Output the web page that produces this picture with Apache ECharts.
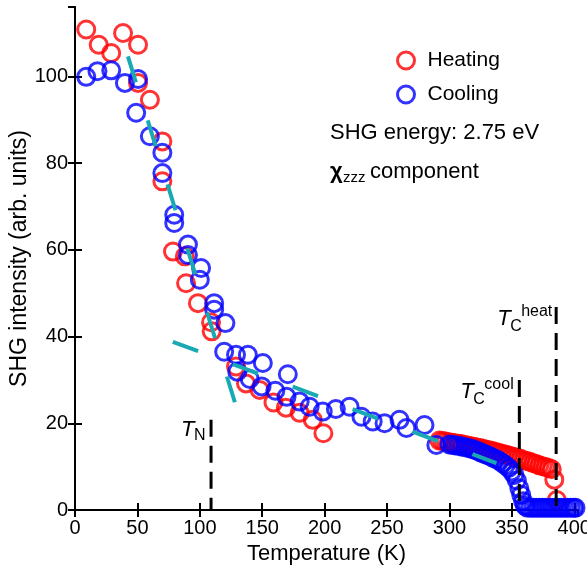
<!DOCTYPE html>
<html>
<head>
<meta charset="utf-8">
<script src="https://cdn.jsdelivr.net/npm/echarts@6/dist/echarts.min.js"></script>
<style>
  html, body { margin: 0; padding: 0; background: #fff; }
  #chart { width: 587px; height: 576px; }
</style>
</head>
<body>
<div id="chart"></div>
<script>
// heating run, [T (K), SHG intensity]
const heatingLow = [[9,110.8],[19,107.3],[29,105.4],[38.5,110],[50.5,107.3],[50.5,98.5],[60,94.6],[70,85],[70,75.8],
  [78.5,59.6],[88,58.5],[89,52.3],[98.5,47.7],[109,43.3],[109.5,41.2],[129,33.1],[137,29.2],[148,27.7],[159,24.8],
  [169,23.6],[180,22.4],[190.5,20.8],[199,17.7]];
const heatingHigh = [[292,16.0],[294.5,15.9],[297,15.8],[299.5,15.6],[302,15.5],[304.5,15.4],[307,15.3],[309.5,15.2],
  [312,15.0],[314.5,14.9],[317,14.7],[319.5,14.6],[322,14.4],[324.5,14.3],[327,14.1],[329.5,13.9],[332,13.8],
  [334.5,13.6],[337,13.4],[339.5,13.2],[342,13.0],[344.5,12.8],[347,12.6],[349.5,12.4],[352,12.2],[354.5,12.0],
  [357,11.8],[359.5,11.5],[362,11.3],[364.5,11.1],[367,10.8],[369.5,10.6],[372,10.3],[374.5,10.1],[377,9.9],
  [379.5,9.7],[382,9.4],[384,7.0],[386,2.3]];
// cooling run
const coolingLow = [[9,99.9],[18,101.2],[29,101.4],[40,98.5],[50.5,99.4],[49,91.6],[60,86.2],[70,82.4],[70,77.7],
  [79.5,68.1],[79.5,66.2],[90.5,61.2],[90.5,58.8],[101,55.8],[100,53.1],[111.5,47.7],[111.5,46.2],[120.5,43.1],
  [119.5,36.5],[129,35.8],[130,31.9],[138.5,35.8],[140,30.2],[150.5,33.9],[149.5,28.5],[160.5,27.5],[170.5,31.3],
  [169.5,26.1],[180,25],[188,23.8],[198.5,22.7],[209,23.3],[220,23.8],[229.5,21.5],[238.5,20.4],[248,20],
  [260,20.8],[265.5,18.9],[280,19.6],[289.5,15]];
const coolingHigh = [[300,15.1],[302.5,15.0],[305,14.9],[307.5,14.8],[310,14.6],[312.5,14.5],[315,14.3],[317.5,14.1],
  [320,13.9],[322.5,13.6],[325,13.3],[327.5,13.0],[330,12.7],[332.5,12.4],[335,12.0],[337.5,11.7],[340,11.3],
  [342.5,10.8],[345,10.3],[347.5,9.7],[350,8.9],[352,8.1],[354,6.8],[356,5.0],[357.5,3.5],[359,2.0],[360.5,1.0],
  [362,0.6],[364.5,0.5],[367,0.5],[369.5,0.5],[372,0.5],[374.5,0.5],[377,0.5],[379.5,0.5],[382,0.5],[384.5,0.5],
  [387,0.5],[389.5,0.5],[392,0.5],[394.5,0.5],[397,0.5],[399.5,0.5],[401,0.5]];
// linear guides (end points)
const fitSteep = [[42.4,104.6],[129.2,23.8]];
const fitFlat = [[78.4,38.8],[337.6,10.8]];
// transition temperatures and the top of their dashed markers
const transT = [109, 356, 385.5];
const transTop = [20.8, 30, 46.8];
const transSub = ['N', 'C', 'C'];
const transSup = ['', 'cool', 'heat'];

const FONT = "'Liberation Sans', Arial, sans-serif";
const RED = '#ff0000', BLUE = '#0000ff', CYAN = '#19a9b3';

let chart = echarts.init(document.getElementById('chart'));

function circles(name, data, color) {
  return {
    name: name, type: 'scatter', data: data, symbol: 'circle', symbolSize: 17,
    itemStyle: { color: 'rgba(0,0,0,0)', borderColor: color, borderWidth: 3 },
    silent: true
  };
}
function guide(data, dash) {
  return {
    type: 'line', data: data, symbol: 'none', silent: true,
    lineStyle: { color: CYAN, width: 4, type: dash }
  };
}

let series = [
  circles('Heating', heatingLow.concat(heatingHigh), RED),
  circles('Cooling', coolingLow.concat(coolingHigh), BLUE),
  guide(fitSteep, [27, 40]),
  guide(fitFlat, [27, 37])
];
transT.forEach((t, i) => {
  series.push({
    type: 'line', data: [[t, transTop[i]], [t, 0]], symbol: 'none', silent: true,
    lineStyle: { color: '#000', width: 3, type: [17, 9] }
  });
});

const axisCommon = {
  axisLine: { show: true, lineStyle: { color: '#000', width: 2 } },
  axisTick: { show: true, inside: true, length: 7, lineStyle: { color: '#000', width: 2 } },
  splitLine: { show: false }
};

let option = {
  animation: false,
  grid: { left: 75, top: 7, right: 9, bottom: 66, outerBoundsMode: 'none' },
  legend: {
    orient: 'vertical', left: 391, top: 45,
    itemWidth: 17, itemHeight: 17, itemGap: 13,
    textStyle: { fontFamily: FONT, fontSize: 21, color: '#000', lineHeight: 20, padding: [0, 0, 0, 8] },
    data: [
      { name: 'Heating', icon: 'circle', itemStyle: { color: '#fff', borderColor: RED, borderWidth: 3 } },
      { name: 'Cooling', icon: 'circle', itemStyle: { color: '#fff', borderColor: BLUE, borderWidth: 3 } }
    ]
  },
  xAxis: [
    Object.assign({
      type: 'value', min: 0, max: 403, interval: 50, position: 'bottom',
      name: 'Temperature (K)', nameLocation: 'middle', nameGap: 33, nameMoveOverlap: false,
      nameTextStyle: { fontFamily: FONT, fontSize: 22, color: '#000' },
      axisLabel: { fontFamily: FONT, fontSize: 20, color: '#000', margin: 8, showMaxLabel: false }
    }, axisCommon),
    Object.assign({
      type: 'value', min: 0, max: 403, interval: 50, position: 'top',
      axisLabel: { show: false }
    }, axisCommon)
  ],
  yAxis: [
    Object.assign({
      type: 'value', min: 0, max: 116, interval: 20, position: 'left',
      name: 'SHG intensity (arb. units)', nameLocation: 'middle', nameGap: 44, nameMoveOverlap: false,
      nameTextStyle: { fontFamily: FONT, fontSize: 23, color: '#000' },
      axisLabel: { fontFamily: FONT, fontSize: 20, color: '#000', margin: 7, showMaxLabel: false }
    }, axisCommon),
    Object.assign({
      type: 'value', min: 0, max: 116, interval: 20, position: 'right',
      axisLabel: { show: false }
    }, axisCommon)
  ],
  series: series
};
chart.setOption(option);

// annotations
function txt(x, y, text, size, extra) {
  return {
    type: 'text', silent: true,
    style: Object.assign({ x: x, y: y, text: text, fill: '#000', font: size + 'px ' + FONT,
      align: 'left', verticalAlign: 'middle' }, extra || {})
  };
}
let graphic = [
  txt(330, 133, 'SHG energy: 2.75 eV', 22),
  txt(330, 172, 'χ', 22, { font: 'bold 22px ' + FONT }),
  txt(343, 178, 'zzz', 15),
  txt(370, 172, 'component', 22)
];
transT.forEach((t, i) => {
  let p = chart.convertToPixel({ gridIndex: 0 }, [t, transTop[i]]);
  if (transSup[i]) {
    graphic.push(txt(p[0] - 59, p[1] + 12, 'T', 22, { font: 'italic 22px ' + FONT }));
    graphic.push(txt(p[0] - 46, p[1] + 20, transSub[i], 16));
    graphic.push(txt(p[0] - 35, p[1] + 5, transSup[i], 16));
  } else {
    graphic.push(txt(p[0] - 30, p[1] + 10, 'T', 22, { font: 'italic 22px ' + FONT }));
    graphic.push(txt(p[0] - 17, p[1] + 16, transSub[i], 16));
  }
});
chart.setOption({ graphic: graphic });
</script>
</body>
</html>
